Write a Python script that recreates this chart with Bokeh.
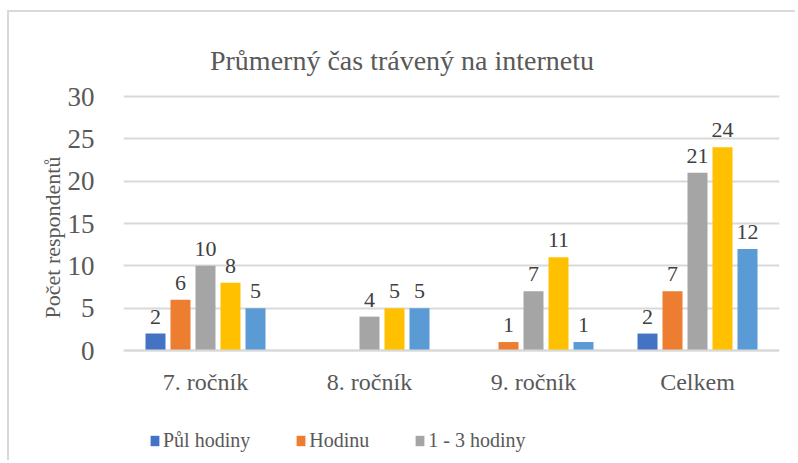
from bokeh.plotting import figure
from bokeh.models import ColumnDataSource, FactorRange, Range1d, Legend, LegendItem, Title, Label
from bokeh.transform import dodge
from bokeh.core.properties import value
from bokeh.embed import file_html
from bokeh.resources import INLINE

# ---- data ----
categories = ["7. ročník", "8. ročník", "9. ročník", "Celkem"]
series_names = ["Půl hodiny", "Hodinu", "1 - 3 hodiny", "series_4", "series_5"]
s_pul_hodiny = [2, 0, 0, 2]
s_hodinu = [6, 0, 1, 7]
s_1_3_hodiny = [10, 4, 7, 21]
s_4 = [8, 5, 11, 24]
s_5 = [5, 5, 1, 12]
y_ticks = [0, 5, 10, 15, 20, 25, 30]
chart_title = "Průmerný čas trávený na internetu"
y_title = "Počet respondentů"

# ---- layout (pixels on the canvas) ----
W, H = 788, 450
FRAME_LEFT, FRAME_RIGHT = 114, 770
Y0_PX, YTOP_PX = 338, 84          # canvas rows of value 0 and value 30
px_per_unit = (Y0_PX - YTOP_PX) / (y_ticks[-1] - y_ticks[0])
y_start = -(H - Y0_PX) / px_per_unit
y_end = y_ticks[-1] + YTOP_PX / px_per_unit
band_px = (FRAME_RIGHT - FRAME_LEFT) / len(categories)

series_values = [s_pul_hodiny, s_hodinu, s_1_3_hodiny, s_4, s_5]
colors = ["#4472C4", "#ED7D31", "#A5A5A5", "#FFC000", "#5B9BD5"]
step = 25 / band_px
offsets = [-2 * step, -step, 0.0, step, 2 * step]
bar_w = 20 / band_px

FONT = "'Liberation Serif', 'Times New Roman', serif"

p = figure(
    x_range=FactorRange(*categories, range_padding=0),
    y_range=Range1d(y_start, y_end),
    width=W, height=H,
    output_backend="svg", toolbar_location=None,
    min_border_left=FRAME_LEFT, min_border_right=W - FRAME_RIGHT,
    min_border_top=0, min_border_bottom=0,
)
p.styles = {"margin-left": "7px", "margin-top": "10px",
            "border-left": "2px solid #D9D9D9", "border-top": "2px solid #D9D9D9"}

p.outline_line_color = None
p.background_fill_color = "white"
p.xgrid.grid_line_color = None
p.ygrid.grid_line_color = "#D9D9D9"
p.ygrid.grid_line_width = 2
p.yaxis.ticker = y_ticks

p.yaxis.axis_line_color = None
p.yaxis.major_tick_line_color = None
p.yaxis.minor_tick_line_color = None
p.yaxis.major_label_text_font = FONT
p.yaxis.major_label_text_font_size = "27px"
p.yaxis.major_label_text_color = "#595959"
p.yaxis.major_label_standoff = 23

p.xaxis.fixed_location = 0
p.xaxis.axis_line_color = "#D9D9D9"
p.xaxis.axis_line_width = 2
p.xaxis.major_tick_line_color = None
p.xaxis.minor_tick_line_color = None
p.xaxis.major_label_text_font = FONT
p.xaxis.major_label_text_font_size = "24px"
p.xaxis.major_label_text_color = "#595959"
p.xaxis.major_label_standoff = 12

renderers = []
for name, vals, col, off in zip(series_names, series_values, colors, offsets):
    src = ColumnDataSource(dict(cat=categories, v=vals))
    r = p.vbar(x=dodge("cat", off, range=p.x_range), top="v", width=bar_w, source=src,
               fill_color=col, line_color=None)
    renderers.append(r)
    lab_cats = [c for c, v in zip(categories, vals) if v > 0]
    lab_vals = [v for v in vals if v > 0]
    lsrc = ColumnDataSource(dict(cat=lab_cats, v=lab_vals, lbl=[str(v) for v in lab_vals]))
    p.text(x=dodge("cat", off, range=p.x_range), y="v", text="lbl", source=lsrc,
           text_font=value(FONT), text_font_size="22px", text_color="#404040",
           text_align="center", text_baseline="alphabetic", y_offset=-17)

# chart title, placed inside the (full-height) frame
title_cx = 392.5
title_baseline = 47.5
p.add_layout(Label(
    x=(title_cx - FRAME_LEFT) / band_px,
    y=y_ticks[-1] + (YTOP_PX - title_baseline) / px_per_unit,
    text=chart_title, text_font=FONT, text_font_size="28px", text_color="#595959",
    text_align="center", text_baseline="alphabetic"))

legend = Legend(
    items=[LegendItem(label=series_names[i], renderers=[renderers[i]]) for i in range(3)],
    orientation="horizontal", location=(26, 10),
    label_text_font=FONT, label_text_font_size="20px", label_text_color="#595959",
    glyph_width=11, glyph_height=13, label_standoff=3, spacing=45,
    padding=0, margin=0, border_line_color=None, background_fill_alpha=0,
)
p.add_layout(legend, "center")

ylab = Title(text=y_title, align="center",
             text_font=FONT, text_font_size="22px", text_font_style="normal",
             text_color="#595959", standoff=0)
p.add_layout(ylab, "left")

open("out.html", "w").write(file_html(p, INLINE))
